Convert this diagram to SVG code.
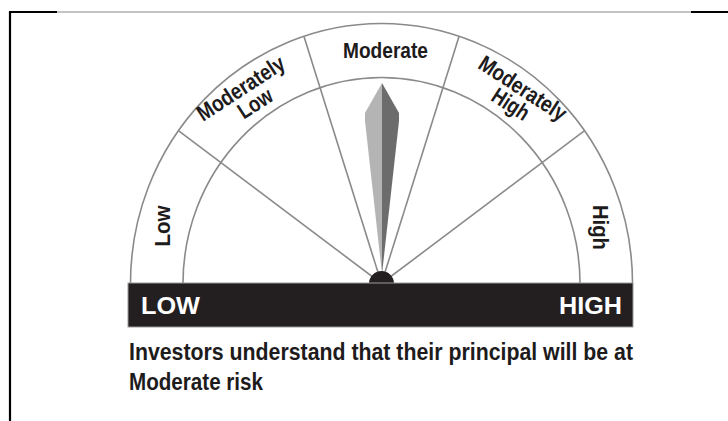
<svg xmlns="http://www.w3.org/2000/svg" width="728" height="421" viewBox="0 0 728 421">
  <style>
    .arc { fill: none; stroke: #8a8a8a; stroke-width: 1.6; }
    .div { stroke: #8a8a8a; stroke-width: 1.6; }
    .lbl { font-family: "Liberation Sans Narrow", "Liberation Sans", Arial, sans-serif; font-weight: bold; font-size: 22.5px; fill: #1e1b1c; }
    .bar { font-family: "Liberation Sans", Arial, sans-serif; font-weight: bold; font-size: 24px; fill: #ffffff; }
    .cap { font-family: "Liberation Sans Narrow", "Liberation Sans", Arial, sans-serif; font-weight: bold; font-size: 23.5px; fill: #1e1b1c; }
  </style>
  <rect x="0" y="0" width="728" height="421" fill="#ffffff"/>
  <g id="frame">
    <line x1="10" y1="11" x2="10" y2="421" stroke="#000" stroke-width="2.2"/>
    <line x1="9" y1="12" x2="57" y2="12" stroke="#000" stroke-width="2"/>
    <line x1="57" y1="12" x2="691" y2="12" stroke="#8a8a8a" stroke-width="1.2"/>
    <line x1="691" y1="12" x2="728" y2="12" stroke="#000" stroke-width="2"/>
  </g>
  <g id="gauge">
    <path class="arc" d="M130.5,283.5 A251,260 0 0 1 632.5,283.5"/>
    <path class="arc" d="M183,283.5 A198.5,206 0 0 1 580,283.5"/>
  </g>
  <g id="connectors">
    <line class="div" x1="381.5" y1="283.5" x2="178.4" y2="130.7"/>
    <line class="div" x1="381.5" y1="283.5" x2="303.9" y2="36.2"/>
    <line class="div" x1="381.5" y1="283.5" x2="459.1" y2="36.2"/>
    <line class="div" x1="381.5" y1="283.5" x2="584.6" y2="130.7"/>
  </g>
  <g id="needle">
    <path d="M382,83 L365,113 L365,121 L382,274 Z" fill="#b4b4b4"/>
    <path d="M382,83 L399,113 L399,121 L382,274 Z" fill="#6c6c6c"/>
  </g>
  <circle id="hub" cx="381.5" cy="283.5" r="12.5" fill="#231f20"/>
  <g id="seg-low">
    <text class="lbl" transform="translate(162,226) rotate(-90)" x="0" y="8" text-anchor="middle" textLength="41" lengthAdjust="spacingAndGlyphs">Low</text>
  </g>
  <g id="seg-moderately-low">
    <text class="lbl" transform="translate(240.5,88) rotate(-33)" x="0" y="8" text-anchor="middle" textLength="100" lengthAdjust="spacingAndGlyphs">Moderately</text>
    <text class="lbl" transform="translate(255,103) rotate(-33)" x="0" y="8" text-anchor="middle" textLength="37" lengthAdjust="spacingAndGlyphs">Low</text>
  </g>
  <g id="seg-moderate">
    <text class="lbl" x="343" y="57.5" textLength="85" lengthAdjust="spacingAndGlyphs">Moderate</text>
  </g>
  <g id="seg-moderately-high">
    <text class="lbl" transform="translate(523,88) rotate(33)" x="0" y="8" text-anchor="middle" textLength="100" lengthAdjust="spacingAndGlyphs">Moderately</text>
    <text class="lbl" transform="translate(511,104) rotate(33)" x="0" y="8" text-anchor="middle" textLength="40" lengthAdjust="spacingAndGlyphs">High</text>
  </g>
  <g id="seg-high">
    <text class="lbl" transform="translate(601,227.5) rotate(90)" x="0" y="8" text-anchor="middle" textLength="45" lengthAdjust="spacingAndGlyphs">High</text>
  </g>
  <g id="scale-bar">
    <rect x="128" y="283" width="505" height="44" fill="#231f20" stroke="#9a9a9a" stroke-width="1"/>
    <text class="bar" x="141" y="314" textLength="59" lengthAdjust="spacingAndGlyphs">LOW</text>
    <text class="bar" x="622" y="314" text-anchor="end" textLength="63" lengthAdjust="spacingAndGlyphs">HIGH</text>
  </g>
  <g id="caption">
    <text class="cap" x="129" y="359.5" textLength="504" lengthAdjust="spacingAndGlyphs">Investors understand that their principal will be at</text>
    <text class="cap" x="129" y="389.5" textLength="134" lengthAdjust="spacingAndGlyphs">Moderate risk</text>
  </g>
</svg>
